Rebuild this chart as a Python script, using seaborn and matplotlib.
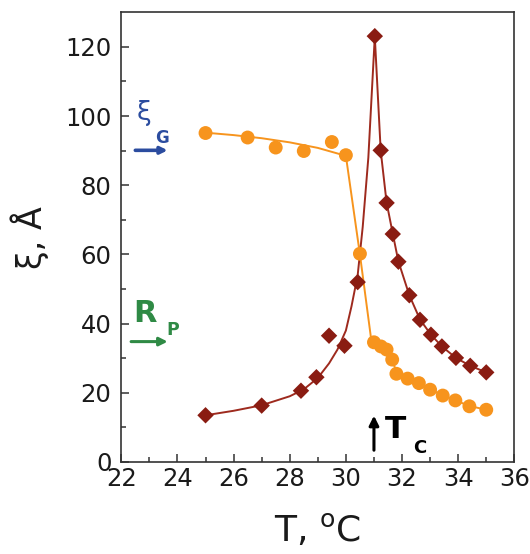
import matplotlib
matplotlib.use("Agg")
import matplotlib.pyplot as plt
import seaborn as sns

# Orange circles: data and drawn curve
orange_T = [25, 26.5, 27.5, 28.5, 29.5, 30, 30.5, 31, 31.25, 31.45, 31.65, 31.8,
            32.2, 32.6, 33, 33.45, 33.9, 34.4, 35]
orange_xi = [95.1, 93.8, 90.9, 89.9, 92.5, 88.7, 60.2, 34.6, 33.4, 32.5, 29.6, 25.5,
             24.1, 22.8, 20.9, 19.2, 17.8, 16.1, 15.1]
orange_fit_T = [25, 26, 27, 28, 29, 30, 30.5, 30.9, 31.25, 31.45, 31.65, 31.8,
                32.2, 32.6, 33, 33.45, 33.9, 34.4, 35]
orange_fit_xi = [95.2, 94.5, 93.6, 92.4, 90.8, 88.5, 60, 35.5, 33.4, 32.3, 29.8, 25.8,
                 24.1, 22.8, 21, 19.3, 17.8, 16.2, 15.1]

# Dark red diamonds: data and drawn curve
red_T = [25, 27, 28.4, 28.95, 29.4, 29.95, 30.42, 31.03, 31.24, 31.45, 31.67, 31.87,
         32.26, 32.64, 33.03, 33.42, 33.92, 34.43, 35]
red_xi = [13.5, 16.3, 20.6, 24.5, 36.5, 33.6, 52.0, 123.1, 90.1, 74.9, 65.9, 57.9,
          48.2, 41.1, 36.8, 33.4, 30.1, 27.8, 25.9]
red_fit_T = [25, 26, 27, 28, 28.5, 29, 29.4, 29.7, 30, 30.2, 30.42, 30.6, 30.8, 31.03,
             31.24, 31.45, 31.67, 31.87, 32.26, 32.64, 33.03, 33.42, 33.92, 34.43, 35]
red_fit_xi = [13.5, 14.8, 16.4, 19.0, 21.0, 24.3, 28.5, 32.5, 38, 45, 54, 68, 88, 123,
              90, 75, 66, 58, 48.2, 41.2, 36.8, 33.4, 30.1, 27.8, 25.9]

x_ticks = [22, 24, 26, 28, 30, 32, 34, 36]
y_ticks = [0, 20, 40, 60, 80, 100, 120]

ORANGE = "#f7941d"
DKRED = "#8a1c12"
LNRED = "#9e2a1e"
BLUE = "#2b4c9f"
GREEN = "#2f8a45"

sns.set_style("ticks")
plt.rcParams["font.family"] = ["DejaVu Sans"]

fig = plt.figure(figsize=(5.30, 5.54), dpi=100)
ax = fig.add_axes([0.2289, 0.1661, 0.7415, 0.8117])

sns.lineplot(x=orange_fit_T, y=orange_fit_xi, ax=ax, color=ORANGE, lw=1.4,
             sort=False, estimator=None)
sns.lineplot(x=red_fit_T, y=red_fit_xi, ax=ax, color=LNRED, lw=1.4,
             sort=False, estimator=None)
sns.scatterplot(x=orange_T, y=orange_xi, ax=ax, color=ORANGE, marker="o", s=100,
                edgecolor="none", zorder=3)
sns.scatterplot(x=red_T, y=red_xi, ax=ax, color=DKRED, marker="D", s=70,
                edgecolor="none", zorder=4)

ax.set_xlim(22, 36)
ax.set_ylim(0, 130)
ax.set_xticks(x_ticks)
ax.set_yticks(y_ticks)
ax.set_xticks([23, 25, 27, 29, 31, 33, 35], minor=True)
ax.set_yticks([10, 30, 50, 70, 90, 110], minor=True)
ax.tick_params(which="both", direction="in", labelsize=17.5, color="#333333",
               labelcolor="#1a1a1a", top=False, right=False)
ax.tick_params(which="major", length=6, width=1.1)
ax.tick_params(which="minor", length=3.5, width=1.1)
ax.tick_params(axis="y", pad=7)
for s in ax.spines.values():
    s.set_linewidth(1.2)
    s.set_color("#333333")
    s.set_visible(True)

ax.set_xlabel(r"T, $^\mathrm{o}$C", fontsize=26, labelpad=15, color="#1a1a1a")
ax.set_ylabel("ξ, Å", fontsize=24, labelpad=12, color="#1a1a1a")

# blue xi_G marker
ax.text(22.8, 99.0, "ξ", color=BLUE, fontsize=19, ha="center", va="baseline")
ax.text(23.45, 92.2, "G", color=BLUE, fontsize=12, fontweight="bold",
        ha="center", va="baseline")
ax.annotate("", xy=(23.75, 90.1), xytext=(22.4, 90.1),
            arrowprops=dict(arrowstyle="-|>", color=BLUE, lw=2.6,
                            mutation_scale=10))

# green R_P marker
ax.text(22.85, 40.4, "R", color=GREEN, fontsize=22, fontweight="bold",
        ha="center", va="baseline")
ax.text(23.85, 36.7, "P", color=GREEN, fontsize=12.5, fontweight="bold",
        ha="center", va="baseline")
ax.annotate("", xy=(23.75, 34.8), xytext=(22.25, 34.8),
            arrowprops=dict(arrowstyle="-|>", color=GREEN, lw=2.2,
                            mutation_scale=12))

# Tc marker
ax.annotate("", xy=(31.0, 14.2), xytext=(31.0, 2.6),
            arrowprops=dict(arrowstyle="-|>", color="black", lw=2.2,
                            mutation_scale=14))
ax.text(31.75, 6.9, "T", color="black", fontsize=22.5, fontweight="bold",
        ha="center", va="baseline")
ax.text(32.63, 2.6, "C", color="black", fontsize=13, fontweight="bold",
        ha="center", va="baseline")

fig.savefig("out.png", dpi=100)
